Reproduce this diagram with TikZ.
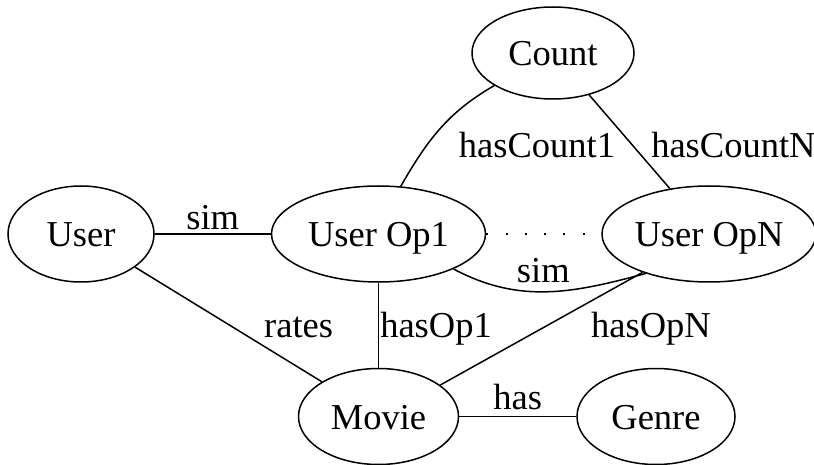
\documentclass[tikz,border=0pt]{standalone}
\usepackage{fontspec}
\setmainfont{Liberation Serif}
\usetikzlibrary{shapes.geometric, positioning}

\begin{document}
\begin{tikzpicture}[x=1pt,y=1pt,-,line width=1.5pt,
        main node/.style={ellipse,draw,inner sep=0pt,minimum height=96pt,
          text height=25pt,text depth=0pt,font=\fontsize{36.5}{44}\selectfont},
        edge label/.style={font=\fontsize{36.5}{44}\selectfont,inner sep=0pt}]
  \useasboundingbox (0,0) rectangle (814,464);
    \node[main node, minimum width=146pt] (1) at (81,230) {User};
    \node[main node, minimum width=214pt] (2) [right=116pt of 1] {User Op1};
    \node[main node, minimum width=214pt] (3) [right=115pt of 2] {User OpN};
    \node[main node, minimum width=160pt] (4) [below=85pt of 2] {Movie};
    \node[main node, minimum width=158pt] (5) [right=117pt of 4] {Genre};
    \node[main node, minimum width=162pt, minimum height=92pt] (6) at (553,411) {Count};
  \path[line width=1.5pt, every node/.style={edge label}]
      (1) edge node [anchor=base, yshift=4pt] {sim} (2)
      (1) edge node [anchor=base west, xshift=35pt, yshift=-13pt] {rates} (4)
      (2) edge node [anchor=base west, xshift=1pt, yshift=-12.5pt] {hasOp1} (4)
      (3.210) edge node [anchor=base west, xshift=49pt, yshift=-9pt] {hasOpN} (4.27)
      (4) edge node [anchor=base, yshift=7pt] {has} (5)
      (6) edge node [anchor=base west, xshift=21pt, yshift=-15.5pt] {hasCountN} (3)
      (6.209) edge [out=210, in=60] node [anchor=base west, xshift=18pt, yshift=-28.5pt] {hasCount1} (2.65)
      (2.335) edge [out=-28, in=195] node [anchor=base, xshift=-4pt, yshift=9.4pt] {sim} (3.212)
      (2) edge [dash pattern=on 2pt off 17.3pt] (3);
  \end{tikzpicture}
\end{document}
